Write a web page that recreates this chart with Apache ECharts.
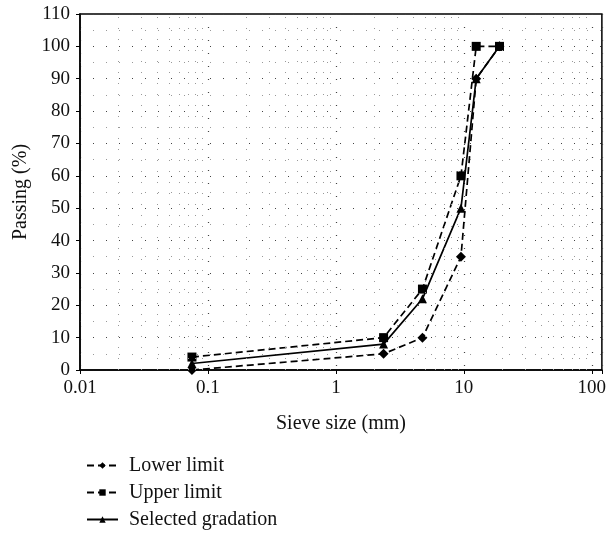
<!DOCTYPE html>
<html>
<head>
<meta charset="utf-8">
<script src="https://cdn.jsdelivr.net/npm/echarts@6/dist/echarts.min.js"></script>
<style>
  html, body { margin: 0; padding: 0; background: #fff; }
  #chart { width: 609px; height: 533px; }
</style>
</head>
<body>
<div id="chart"></div>
<script>
// sieve sizes (mm) and passing (%)
const sieves = [0.075, 2.36, 4.75, 9.5, 12.5, 19];
const lowerLimit = [0, 5, 10, 35, 90, 100];
const upperLimit = [4, 10, 25, 60, 100, 100];
const selected = [2, 8, 22, 50, 90, 100];
const xTickLabels = ['0.01', '0.1', '1', '10', '100'];

const font = 'Liberation Serif';

const pairs = (ys) => sieves.map((x, i) => [x, ys[i]]);

// dotted minor grid on the log axis (2..9 in each decade)
const minorX = [];
[0.01, 0.1, 1, 10, 100].forEach(d => {
    for (let k = 2; k <= 9; k++) {
        const v = d * k;
        if (v < 120) minorX.push({ xAxis: v });
    }
});

const chart = echarts.init(document.getElementById('chart'));

chart.setOption({
    animation: false,
    grid: {
        left: 80,
        right: 7,
        top: 14,
        bottom: 163,
        show: true,
        borderColor: '#000',
        borderWidth: 1.5
    },
    legend: {
        orient: 'vertical',
        left: 86,
        top: 455,
        padding: 0,
        itemWidth: 31,
        itemHeight: 8,
        itemGap: 6,
        textStyle: {
            fontFamily: font,
            fontSize: 20,
            lineHeight: 21,
            color: '#111',
            padding: [0, 0, 0, 6]
        },
        data: ['Lower limit', 'Upper limit', 'Selected gradation']
    },
    xAxis: {
        type: 'log',
        logBase: 10,
        min: 0.01,
        max: 120,
        name: 'Sieve size (mm)',
        nameLocation: 'middle',
        nameGap: 44,
        nameTextStyle: { fontFamily: font, fontSize: 20, color: '#111' },
        axisLine: { lineStyle: { color: '#000', width: 1.5 } },
        axisTick: { show: true, length: 4, lineStyle: { color: '#000' } },
        axisLabel: {
            fontFamily: font,
            fontSize: 19,
            color: '#111',
            margin: 9,
            formatter(v) {
                const e = Math.log10(v);
                if (Math.abs(e - Math.round(e)) > 1e-6) return '';
                return xTickLabels[Math.round(e) + 2] || '';
            }
        },
        splitLine: {
            show: true,
            lineStyle: { color: '#444', type: [1, 12], width: 1.2 }
        }
    },
    yAxis: {
        type: 'value',
        min: 0,
        max: 110,
        interval: 10,
        name: 'Passing (%)',
        nameLocation: 'middle',
        nameGap: 47,
        nameTextStyle: { fontFamily: font, fontSize: 20, color: '#111' },
        axisLine: { show: true, lineStyle: { color: '#000', width: 1.5 } },
        axisTick: { show: true, length: 4, lineStyle: { color: '#000' } },
        axisLabel: { fontFamily: font, fontSize: 19, color: '#111', margin: 10 },
        splitLine: {
            show: true,
            lineStyle: { color: '#444', type: [1, 12], width: 1.2 }
        },
        minorTick: { show: false, splitNumber: 2 },
        minorSplitLine: {
            show: true,
            lineStyle: { color: '#999', type: [1, 12], width: 1 }
        }
    },
    series: [
        {
            name: 'grid-minor',
            type: 'line',
            data: [],
            silent: true,
            markLine: {
                symbol: 'none',
                silent: true,
                label: { show: false },
                lineStyle: { color: '#999', type: [1, 10], width: 1 },
                data: minorX
            }
        },
        {
            name: 'Lower limit',
            type: 'line',
            data: pairs(lowerLimit),
            symbol: 'diamond',
            symbolSize: 10,
            itemStyle: { color: '#000' },
            lineStyle: { color: '#000', width: 1.7, type: [7, 4] }
        },
        {
            name: 'Upper limit',
            type: 'line',
            data: pairs(upperLimit),
            symbol: 'rect',
            symbolSize: 9,
            itemStyle: { color: '#000' },
            lineStyle: { color: '#000', width: 1.7, type: [7, 4] }
        },
        {
            name: 'Selected gradation',
            type: 'line',
            data: pairs(selected),
            symbol: 'triangle',
            symbolSize: 9,
            itemStyle: { color: '#000' },
            lineStyle: { color: '#000', width: 1.7 }
        }
    ]
});
</script>
</body>
</html>
